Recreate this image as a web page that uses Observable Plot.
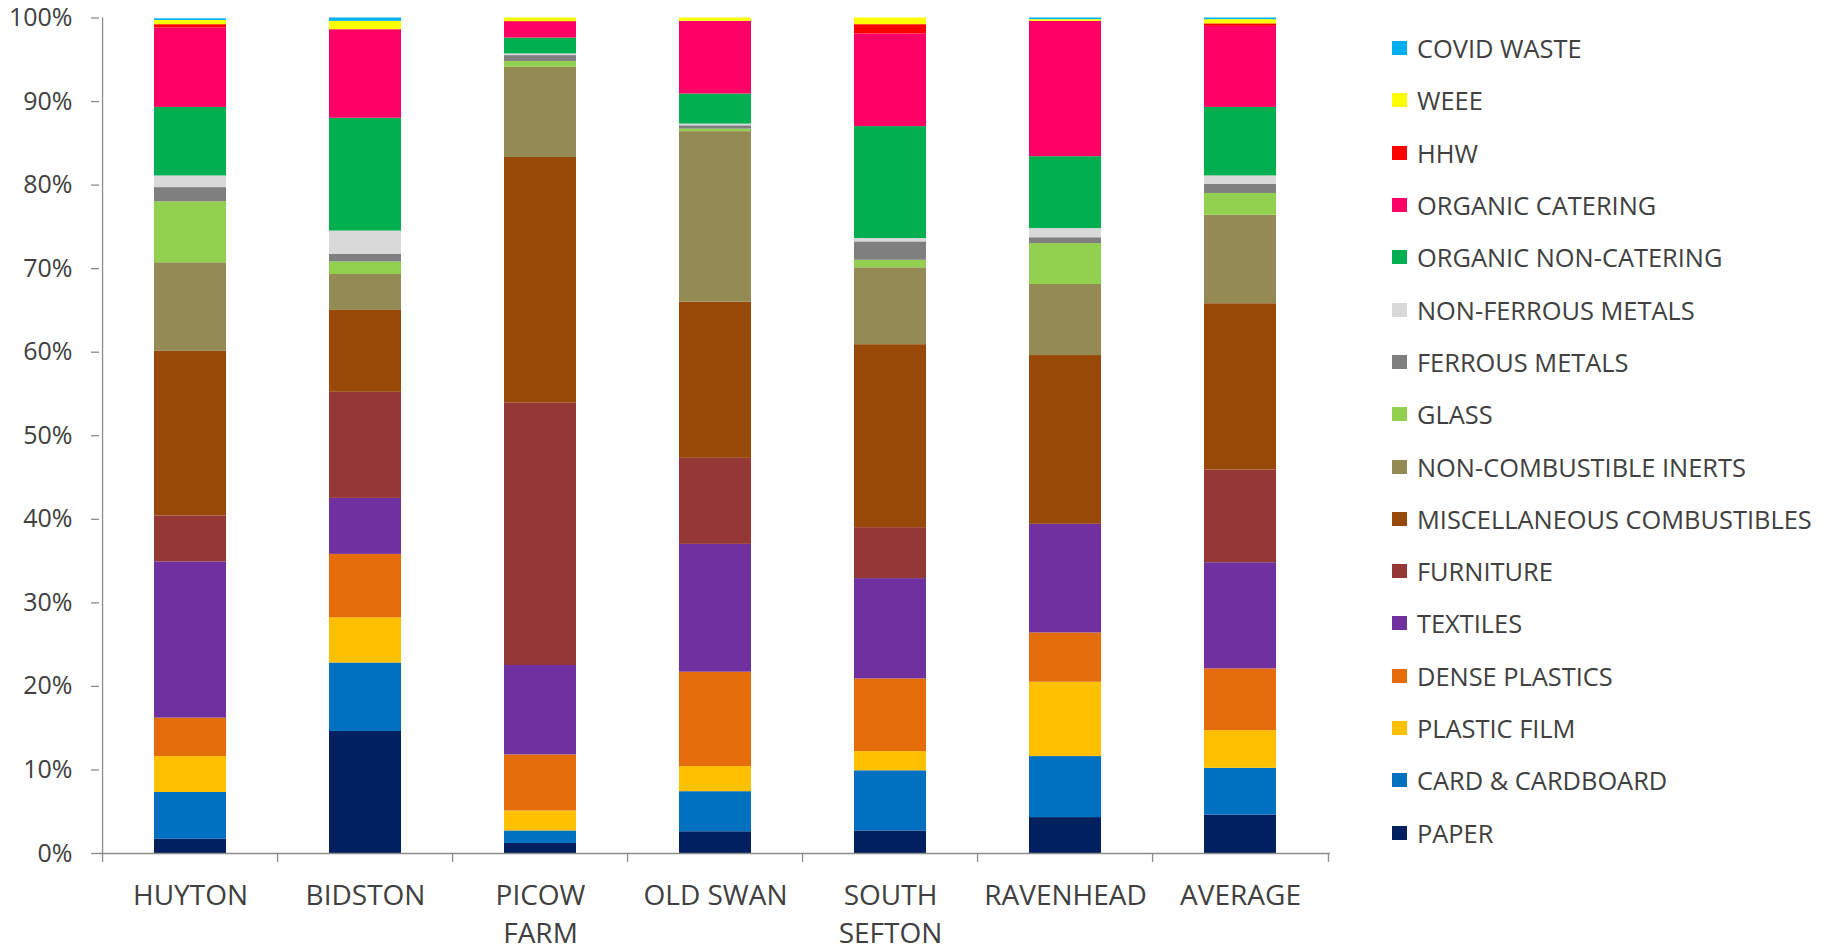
<!DOCTYPE html>
<html>
<head>
<meta charset="utf-8">
<script src="https://cdn.jsdelivr.net/npm/d3@7"></script>
<script src="https://cdn.jsdelivr.net/npm/@observablehq/plot@0.6"></script>
<style>
  body { margin: 0; background: #fff; }
  #wrap { position: relative; width: 1827px; height: 948px; font-family: "Open Sans", sans-serif; }
  #legend { position: absolute; left: 1392px; top: 22px; color: #404040; font-size: 25.4px; }
  #legend .item { display: flex; align-items: center; height: 52.3px; white-space: nowrap; }
  #legend .sw { width: 15px; height: 14px; margin-right: 10px; flex: none; }
</style>
</head>
<body>
<div id="wrap"><div id="chart"></div><div id="legend"></div></div>
<script>
// Sites along the x axis and their two-line tick labels
const sites = ["HUYTON", "BIDSTON", "PICOW FARM", "OLD SWAN", "SOUTH SEFTON", "RAVENHEAD", "AVERAGE"];
const siteLabels = ["HUYTON", "BIDSTON", "PICOW\nFARM", "OLD SWAN", "SOUTH\nSEFTON", "RAVENHEAD", "AVERAGE"];

// Waste materials, stacked bottom to top
const materials = [
  "PAPER", "CARD & CARDBOARD", "PLASTIC FILM", "DENSE PLASTICS", "TEXTILES", "FURNITURE",
  "MISCELLANEOUS COMBUSTIBLES", "NON-COMBUSTIBLE INERTS", "GLASS", "FERROUS METALS",
  "NON-FERROUS METALS", "ORGANIC NON-CATERING", "ORGANIC CATERING", "HHW", "WEEE", "COVID WASTE"
];
const materialColors = [
  "#002060", "#0070C0", "#FFC000", "#E46C0A", "#7030A0", "#953735",
  "#984807", "#948A54", "#92D050", "#7F7F7F",
  "#D9D9D9", "#00B050", "#FF0066", "#FF0000", "#FFFF00", "#00B0F0"
];

// Composition (% by weight) per site, in the same order as materials
const huyton      = [1.7, 5.6, 4.3, 4.6, 18.7, 5.5, 19.7, 10.6, 7.3, 1.7, 1.4, 8.2, 9.5, 0.4, 0.5, 0.2];
const bidston     = [14.6, 8.2, 5.4, 7.6, 6.7, 12.7, 9.8, 4.3, 1.5, 0.9, 2.8, 13.5, 10.6, 0.0, 1.0, 0.4];
const picowFarm   = [1.2, 1.5, 2.4, 6.7, 10.7, 31.4, 29.4, 10.8, 0.7, 0.7, 0.2, 1.9, 1.9, 0.1, 0.4, 0.0];
const oldSwan     = [2.6, 4.8, 3.0, 11.3, 15.3, 10.3, 18.7, 20.4, 0.3, 0.4, 0.2, 3.6, 8.7, 0.0, 0.4, 0.0];
const southSefton = [2.7, 7.2, 2.3, 8.7, 12.0, 6.1, 21.9, 9.2, 0.9, 2.2, 0.4, 13.4, 11.1, 1.1, 0.8, 0.0];
const ravenhead   = [4.3, 7.3, 8.9, 5.9, 13.0, 0.0, 20.2, 8.5, 4.9, 0.7, 1.1, 8.6, 16.2, 0.0, 0.2, 0.2];
const average     = [4.6, 5.6, 4.5, 7.4, 12.7, 11.1, 19.9, 10.6, 2.6, 1.1, 1.0, 8.2, 9.7, 0.3, 0.5, 0.2];

const siteValues = [huyton, bidston, picowFarm, oldSwan, southSefton, ravenhead, average];

// Long-format table for the stacked bars
const rows = sites.flatMap((site, i) =>
  materials.map((material, j) => ({site, material, value: siteValues[i][j]}))
);

const width = 1380, height = 948;
const marginLeft = 99, marginRight = 50, marginTop = 17.5, marginBottom = 95;
const step = (width - marginLeft - marginRight) / sites.length;
const axisColor = "#8c8c8c";
const textColor = "#404040";

const chart = Plot.plot({
  width, height, marginLeft, marginRight, marginTop, marginBottom,
  style: {fontFamily: "'Open Sans', sans-serif", color: textColor, background: "#fff", overflow: "visible"},
  x: {domain: sites, paddingInner: 0.59, paddingOuter: 0.295, axis: null, label: null},
  y: {domain: [0, 100], axis: null, label: null},
  color: {domain: materials, range: materialColors},
  marks: [
    Plot.barY(rows, {x: "site", y: "value", fill: "material", z: "material", order: materials}),
    // axis lines
    Plot.ruleY([0], {stroke: axisColor, strokeWidth: 1.3}),
    Plot.ruleX([sites[0]], {y1: 0, y2: 100, dx: -step / 2, stroke: axisColor, strokeWidth: 1.3}),
    // category separator ticks below the x axis
    Plot.ruleX(sites, {y1: 0, y2: 0, dx: -step / 2, insetBottom: -9, stroke: axisColor, strokeWidth: 1.3}),
    Plot.ruleX([sites[sites.length - 1]], {y1: 0, y2: 0, dx: step / 2, insetBottom: -9, stroke: axisColor, strokeWidth: 1.3}),
    Plot.axisY({
      ticks: d3.range(0, 101, 10), tickFormat: d => d + "%", tickSize: 8, tickPadding: 19,
      fontSize: 25, stroke: axisColor, strokeWidth: 1.3, fill: textColor, label: null
    }),
    Plot.axisX({
      tickSize: 0, tickPadding: 25, fontSize: 28, lineHeight: 1.35, fill: textColor, label: null,
      tickFormat: d => siteLabels[sites.indexOf(d)]
    })
  ]
});
document.getElementById("chart").appendChild(chart);

// Legend, listed top to bottom (reverse of the stacking order)
const legend = d3.select("#legend");
materials.slice().reverse().forEach(m => {
  const item = legend.append("div").attr("class", "item");
  item.append("div").attr("class", "sw").style("background", materialColors[materials.indexOf(m)]);
  item.append("span").text(m);
});
</script>
</body>
</html>
